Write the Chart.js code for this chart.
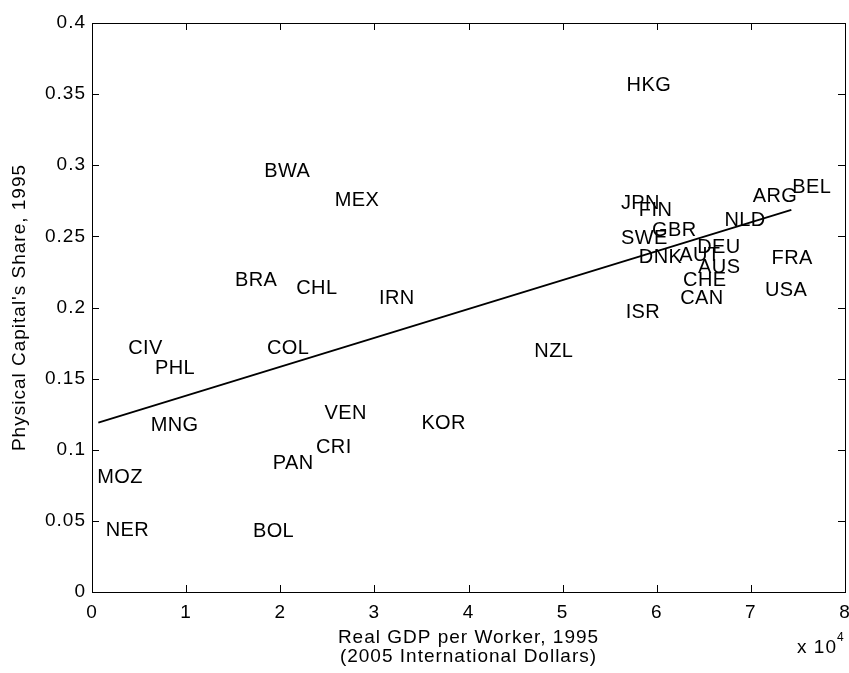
<!DOCTYPE html>
<html>
<head>
<meta charset="utf-8">
<script src="https://cdn.jsdelivr.net/npm/chart.js@4/dist/chart.umd.min.js"></script>
<style>
  html, body { margin: 0; padding: 0; background: #fff; }
  #wrap { width: 849px; height: 673px; }
</style>
</head>
<body>
<div id="wrap"><canvas id="capitalChart"></canvas></div>
<script>
const countries = ['HKG', 'BWA', 'MEX', 'BRA', 'CHL', 'IRN', 'CIV', 'PHL', 'COL', 'MNG',
    'VEN', 'CRI', 'PAN', 'MOZ', 'NER', 'BOL', 'KOR', 'NZL', 'ISR', 'JPN',
    'FIN', 'GBR', 'SWE', 'DNK', 'AUT', 'DEU', 'AUS', 'CHE', 'CAN', 'NLD',
    'ARG', 'BEL', 'FRA', 'USA'];
const gdpPerWorker = [56900, 18400, 25900, 15300, 21800, 30600, 3960, 6800, 18700, 6340,
    24800, 23900, 19300, 670, 1560, 17200, 35100, 47100, 56800, 56300,
    58200, 59600, 56300, 58200, 62500, 64400, 64500, 62900, 62600, 67300,
    70300, 74500, 72300, 71600];
const capitalShare = [0.357, 0.296, 0.276, 0.220, 0.214, 0.207, 0.172, 0.158, 0.172, 0.118,
    0.126, 0.102, 0.091, 0.081, 0.044, 0.043, 0.119, 0.170, 0.197, 0.274,
    0.269, 0.255, 0.249, 0.236, 0.237, 0.243, 0.229, 0.220, 0.207, 0.262,
    0.279, 0.285, 0.235, 0.213];
const fitX = [670, 74300];
const fitY = [0.119, 0.2686];
const xTickLabels = ['0', '1', '2', '3', '4', '5', '6', '7', '8'];

const font = 'Liberation Sans, Arial, Helvetica, sans-serif';

// matlab text is a bit wider than plain arial, spread the letters a little
const spacing = {
    id: 'spacing',
    beforeDraw(chart) {
        chart.ctx.letterSpacing = '1px';
    }
};

// country codes written at each point, like matlab text()
const countryLabels = {
    id: 'countryLabels',
    afterDatasetsDraw(chart) {
        const ctx = chart.ctx;
        const meta = chart.getDatasetMeta(0);
        ctx.save();
        ctx.letterSpacing = '0.4px';
        ctx.fillStyle = '#000';
        ctx.font = '20px ' + font;
        ctx.textAlign = 'left';
        ctx.textBaseline = 'middle';
        meta.data.forEach((pt, i) => {
            ctx.fillText(countries[i], pt.x - 1, pt.y + 1);
        });
        ctx.restore();
    }
};

// box around the axes with inward ticks, plus the x 10^4 multiplier
const frame = {
    id: 'frame',
    afterDraw(chart) {
        const {ctx, chartArea: a, scales: {x, y}} = chart;
        ctx.save();
        ctx.strokeStyle = '#000';
        ctx.lineWidth = 1;
        ctx.strokeRect(a.left + 0.5, a.top + 0.5, a.right - a.left, a.bottom - a.top);
        ctx.beginPath();
        x.ticks.forEach(t => {
            const px = Math.round(x.getPixelForValue(t.value)) + 0.5;
            ctx.moveTo(px, a.bottom); ctx.lineTo(px, a.bottom - 7);
            ctx.moveTo(px, a.top); ctx.lineTo(px, a.top + 7);
        });
        y.ticks.forEach(t => {
            const py = Math.round(y.getPixelForValue(t.value)) + 0.5;
            ctx.moveTo(a.left, py); ctx.lineTo(a.left + 7, py);
            ctx.moveTo(a.right, py); ctx.lineTo(a.right - 7, py);
        });
        ctx.stroke();

        ctx.fillStyle = '#000';
        ctx.textBaseline = 'middle';
        ctx.textAlign = 'right';
        ctx.letterSpacing = '1px';
        ctx.font = '19px ' + font;
        ctx.fillText('x 10', a.right - 8, 648);
        ctx.textAlign = 'left';
        ctx.font = '12px ' + font;
        ctx.fillText('4', a.right - 8, 638);
        ctx.restore();
    }
};

new Chart(document.getElementById('capitalChart'), {
    type: 'scatter',
    data: {
        datasets: [{
            label: 'Countries',
            data: gdpPerWorker.map((v, i) => ({x: v, y: capitalShare[i]})),
            pointRadius: 0,
            pointHoverRadius: 0
        }, {
            type: 'line',
            label: 'Fit',
            data: fitX.map((v, i) => ({x: v, y: fitY[i]})),
            borderColor: '#000',
            borderWidth: 1.8,
            pointRadius: 0,
            fill: false
        }]
    },
    options: {
        responsive: true,
        maintainAspectRatio: false,
        animation: false,
        events: [],
        layout: {
            padding: {top: 23, right: 4, left: 0, bottom: 0}
        },
        plugins: {
            legend: {display: false},
            tooltip: {enabled: false}
        },
        scales: {
            x: {
                type: 'linear',
                min: 0,
                max: 80000,
                grid: {display: false, drawTicks: false},
                border: {display: false},
                ticks: {
                    stepSize: 10000,
                    padding: 9,
                    color: '#000',
                    font: {family: font, size: 19},
                    maxRotation: 0,
                    callback: (v, i) => xTickLabels[i]
                },
                title: {
                    display: true,
                    text: ['Real GDP per Worker, 1995', '(2005 International Dollars)'],
                    color: '#000',
                    font: {family: font, size: 19, lineHeight: 1.0},
                    padding: {top: 0, bottom: 7}
                },
                afterFit: (scale) => {
                    scale.height = 81;
                    scale.paddingLeft = 0;
                    scale.paddingRight = 0;
                }
            },
            y: {
                type: 'linear',
                min: 0,
                max: 0.4,
                grid: {display: false, drawTicks: false},
                border: {display: false},
                ticks: {
                    stepSize: 0.05,
                    padding: 6,
                    color: '#000',
                    font: {family: font, size: 19},
                    callback: (v) => String(Math.round(v * 100) / 100)
                },
                title: {
                    display: true,
                    text: "Physical Capital's Share, 1995",
                    color: '#000',
                    font: {family: font, size: 19, lineHeight: 1.0},
                    padding: {top: 10, bottom: 0}
                },
                afterFit: (scale) => {
                    scale.width = 92;
                    scale.paddingTop = 0;
                    scale.paddingBottom = 0;
                }
            }
        }
    },
    plugins: [spacing, countryLabels, frame]
});
</script>
</body>
</html>
